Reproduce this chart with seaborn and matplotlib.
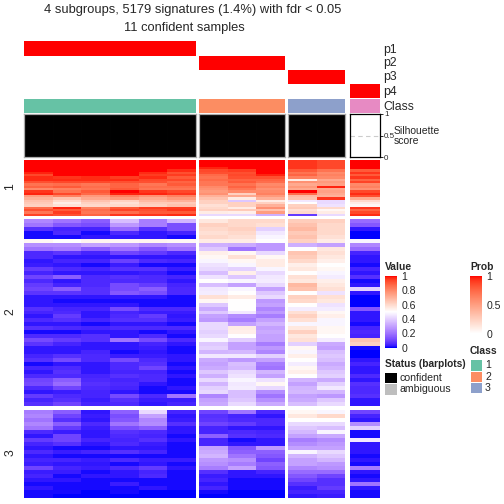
import matplotlib
matplotlib.use("Agg")
import matplotlib.pyplot as plt
from matplotlib.colors import LinearSegmentedColormap, ListedColormap
import numpy as np
import pandas as pd
import seaborn as sns

plt.rcParams['font.family'] = ['Liberation Sans', 'DejaVu Sans']

title_1 = "4 subgroups, 5179 signatures (1.4%) with fdr < 0.05"
title_2 = "11 confident samples"
annotation_names = ["p1", "p2", "p3", "p4", "Class"]
class_colors = ["#66C2A5", "#FC8D62", "#8DA0CB", "#E78AC3"]
prob_rows = [
    [1, 0, 0, 0],
    [0, 1, 0, 0],
    [0, 0, 1, 0],
    [0, 0, 0, 1],
]
silhouette = [
    [1, 1, 1, 1, 1, 1],
    [1, 1, 1],
    [1, 1],
    [0],
]
row_names = ["1", "2", "3"]
value_ticks = [0, 0.2, 0.4, 0.6, 0.8, 1]
value_tick_labels = ["0", "0.2", "0.4", "0.6", "0.8", "1"]
prob_ticks = [0, 0.5, 1]
prob_tick_labels = ["0", "0.5", "1"]
status_names = ["confident", "ambiguous"]
status_colors = ["#000000", "#BEBEBE"]
legend_classes = ["1", "2", "3"]

rows_1 = [
    [1,1,1,1,1,1, 1,1,1, .96,.93, 1],
    [1,1,1,1,1,1, 1,1,1, .96,.93, 1],
    [1,1,1,1,1,1, 1,1,1, .96,.93, 1],
    [1,1,1,1,1,1, .98,1,1, .96,.93, 1],
    [1,1,1,1,1,.97, .93,.95,1, .9,.85, .9],
    [.98,1,1,1,.97,.92, .92,.92,1, .85,.8, .96],
    [.93,1,1,1,.95,.95, .87,.93,.98, .88,.82, .9],
    [.97,.96,.97,.95,.97,.9, .85,.92,.92, .82,.8, .96],
    [.97,.97,.97,.97,.93,.93, .87,.88,.88, .55,.72, .88],
    [.92,.93,.93,.92,.92,.88, .84,.9,.86, .78,.76, .94],
    [.85,.86,.84,.88,.84,.9, .84,.85,.8, .72,.74, .8],
    [.88,.9,.86,.88,.86,.86, .8,.88,.82, .76,.98, .82],
    [.8,.82,.84,.9,.84,.84, .78,.84,.78, .72,.72, .78],
    [.96,.85,.9,1,.96,.93, .76,.8,.8, 1,.74, .93],
    [.98,.93,.87,.98,.98,.96, .78,.62,.82, .86,.72, .97],
    [.75,.82,.76,.82,.78,.82, .7,.72,.76, .68,.7, .92],
    [.7,.66,.72,.76,.72,.76, .66,.55,.7, .66,.96, .72],
    [.66,.6,.66,.62,.68,.7, .62,.38,.55, .45,.42, .6],
    [.64,.55,.62,.58,.64,.64, .62,.62,.62, .5,.42, .55],
    [.62,.58,.6,.6,.62,.66, .58,.62,.7, .62,.44, .52],
    [.86,.98,.82,.9,.95,.95, .6,.55,.78, .64,.6, .96],
    [.92,.9,.86,.94,.92,.96, .62,.64,.66, .58,.52, .88],
    [.84,.95,.84,.86,.9,.9, .55,.54,.75, .6,.55, .93],
    [.94,.92,.88,.96,.96,.97, .42,.42,.33, .08,.42, .97],
]
rows_2 = [
    [.24,.2,.15,.36,.22,.34, .56,.6,.6, .63,.62, .18],
    [.2,.14,.12,.28,.22,.12, .62,.6,.58, .66,.6, .14],
    [.06,.04,.04,.18,.06,.12, .6,.62,.4, .68,.6, .02],
    [.01,.05,.01,.05,.02,.04, .58,.6,.45, .64,.6, 0],
    [.01,.01,.02,.02,.02,.01, .6,.58,.48, .66,.58, 0],
    [.52,.5,.53,.52,.53,.52, .55,.55,.5, .62,.55, .48],
    [.26,.26,.3,.28,.24,.26, .33,.32,.28, .33,.3, .24],
    [.2,.22,.15,.2,.14,.2, .38,.2,.28, .5,.56, .18],
    [.05,.07,.04,.1,.08,.05, .54,.52,.42, .65,.58, .04],
    [.05,.02,.02,.02,.02,.02, .52,.58,.52, .63,.56, .02],
    [.02,.04,.04,.09,.05,.04, .48,.52,.55, .6,.54, .02],
    [.03,.02,.01,.03,.01,.01, .44,.48,.55, .54,.5, .01],
    [.08,.05,.04,.06,.06,.03, .42,.4,.48, .56,.52, .04],
    [.04,.02,.02,.02,.03,.01, .36,.54,.42, .5,.48, .02],
    [.1,.15,.05,.06,.05,.04, .44,.38,.45, .58,.46, .06],
    [.05,.02,.05,.05,.05,.02, .5,.48,.46, .56,.54, .01],
    [.08,.04,.05,.11,.08,.04, .36,.3,.42, .68,.56, .02],
    [.1,.15,.06,.11,.15,.05, .45,.48,.3, .66,.58, .4],
    [.07,.07,.06,.14,.12,.05, .46,.5,.38, .5,.44, .02],
    [.02,.02,.02,.02,.02,.01, .58,.55,.42, .62,.58, 0],
    [.02,.01,.01,.01,.01,.01, .52,.5,.28, .6,.56, 0],
    [.02,.02,.02,.02,.01,.01, .38,.5,.3, .5,.44, 0],
    [.06,.04,.04,.11,.05,.05, .32,.5,.24, .46,.46, .14],
    [.04,.05,.02,.04,.03,.03, .38,.45,.28, .58,.52, .02],
    [.02,.08,.02,.05,.08,.02, .3,.25,.22, .62,.54, .02],
    [.05,.06,.04,.06,.06,.03, .28,.22,.3, .58,.48, .02],
    [.02,.02,.01,.02,.02,.01, .42,.3,.34, .48,.48, .01],
    [.06,.05,.04,.05,.05,.05, .42,.55,.3, .56,.52, .04],
    [.01,.01,.02,.02,.01,.02, .4,.54,.32, .62,.52, .05],
    [.05,.05,.06,.02,.05,.01, .42,.5,.3, .56,.5, .04],
    [.11,.08,.06,.2,.11,.05, .48,.4,.3, .58,.46, .65],
    [.07,.04,.02,.02,.04,.02, .38,.3,.22, .4,.32, .62],
    [.02,.02,.02,.02,.03,.01, .4,.3,.28, .52,.3, .01],
    [.02,.02,.04,.01,.02,.01, .34,.35,.24, .48,.36, 0],
    [.04,.06,.05,.03,.03,.02, .45,.45,.4, .54,.38, 0],
    [.06,.11,.05,.11,.05,.02, .32,.28,.3, .5,.36, .02],
    [.01,.02,.02,.05,.06,.01, .3,.36,.22, .46,.32, .04],
    [.04,.05,.02,.05,.1,.02, .32,.35,.2, .52,.34, .02],
    [.02,.06,.02,.04,.04,.01, .38,.42,.34, .54,.38, .02],
    [.05,.05,.04,.06,.05,.02, .33,.44,.3, .5,.4, .05],
    [.1,.15,.05,.04,.05,.01, .42,.48,.44, .34,.32, .02],
    [.11,.18,.06,.05,.02,.01, .34,.45,.52, .3,.4, .06],
    [.05,.1,.05,.04,.01,.02, .4,.46,.42, .34,.45, .05],
    [.02,.03,.04,.02,.01,.01, .42,.36,.25, .35,.34, .05],
    [.08,.05,.04,.11,.05,.2, .24,.36,.2, .3,.28, .06],
    [.04,.06,.03,.06,.03,.03, .3,.38,.26, .32,.38, .02],
    [.06,.1,.04,.05,.02,.04, .32,.42,.32, .36,.42, .02],
]
rows_3 = [
    [.22,.15,.02,.16,.42,.04, .1,.2,.05, .52,.48, .1],
    [.24,.1,.03,.12,.3,.02, .06,.04,.02, .56,.6, .04],
    [.2,.06,.02,.14,.24,.03, .07,.05,.05, .5,.5, .02],
    [.24,.15,.05,.2,.25,.06, .1,.08,.05, .42,.42, .25],
    [.2,.08,.03,.12,.15,.02, .04,.02,.02, .38,.36, .4],
    [.05,.03,.02,.06,.05,.02, .04,.05,.04, .35,.48, .01],
    [.02,.1,.02,.05,.04,.01, .16,.06,.05, .3,.32, .01],
    [.08,.1,.04,.04,.06,.02, .04,.01,.02, .22,.25, .45],
    [.04,.06,.02,.05,.03,.01, .04,.02,.02, .25,.28, .02],
    [.02,.01,.01,.02,.02,.01, .3,.14,.28, .3,.3, .02],
    [.05,.03,.04,.06,.04,.01, .32,.16,.16, .48,.42, .02],
    [.02,.01,.01,.01,.01,.01, .34,.2,.14, .34,.38, .01],
    [.04,.04,.03,.05,.03,.03, .28,.26,.1, .3,.34, .02],
    [.03,.02,.02,.01,.02,.01, .26,.22,.16, .3,.28, .01],
    [.1,.04,.03,.05,.08,.02, .22,.3,.14, .24,.26, .22],
    [.03,.03,.01,.02,.04,.01, .06,.02,.04, .18,.18, .02],
    [.04,.01,.02,.02,.05,.01, .03,.02,.02, .14,.1, .01],
    [.02,.02,.01,.01,.01,.01, .04,.01,.01, .1,.06, .02],
    [.01,.01,.01,.03,.01,.01, .02,.01,.01, .06,.06, .2],
    [.02,.01,.01,.01,.02,.01, .04,.01,.01, .03,.08, .02],
    [.01,.01,0,.01,0,0, .01,0,0, .04,.04, .01],
    [.01,0,0,0,0,0, 0,0,0, .02,.03, .01],
]
value_blocks = [rows_1, rows_2, rows_3]

# layout, in pixels of the 504 x 504 canvas
W = H = 504
col_boxes = [(24, 196), (199, 285), (288, 345), (350, 380)]
col_slices = [(0, 6), (6, 9), (9, 11), (11, 12)]
row_boxes = [(160, 216), (219, 406), (410, 498)]
prob_boxes = [(41, 56), (56, 70), (70, 84), (84, 98)]
class_box = (99, 113)
sil_box = (114, 157)

sns.set_style("white")
plt.rcParams['font.family'] = ['Liberation Sans', 'DejaVu Sans']
fig = plt.figure(figsize=(W / 100, H / 100), dpi=100, facecolor="white")


def px_ax(x0, x1, y0, y1, **kw):
    return fig.add_axes([x0 / W, 1 - y1 / H, (x1 - x0) / W, (y1 - y0) / H], **kw)


def label(x, y, s, size=7.4, **kw):
    kw.setdefault("ha", "left")
    kw.setdefault("va", "center")
    fig.text(x / W, 1 - y / H, s, fontsize=size, **kw)


def srgb_to_lab(rgb):
    c = np.array(rgb, dtype=float)
    c = np.where(c > 0.04045, ((c + 0.055) / 1.055) ** 2.4, c / 12.92)
    m = np.array([[0.4124, 0.3576, 0.1805], [0.2126, 0.7152, 0.0722], [0.0193, 0.1192, 0.9505]])
    xyz = m @ c / np.array([0.9505, 1.0, 1.089])
    f = np.where(xyz > 0.008856, np.cbrt(xyz), 7.787 * xyz + 16 / 116)
    return np.array([116 * f[1] - 16, 500 * (f[0] - f[1]), 200 * (f[1] - f[2])])


def lab_to_srgb(lab):
    fy = (lab[0] + 16) / 116
    f = np.array([fy + lab[1] / 500, fy, fy - lab[2] / 200])
    xyz = np.where(f ** 3 > 0.008856, f ** 3, (f - 16 / 116) / 7.787) * np.array([0.9505, 1.0, 1.089])
    m = np.array([[3.2406, -1.5372, -0.4986], [-0.9689, 1.8758, 0.0415], [0.0557, -0.2040, 1.0570]])
    c = np.clip(m @ xyz, 0, 1)
    return tuple(np.clip(np.where(c > 0.0031308, 1.055 * c ** (1 / 2.4) - 0.055, 12.92 * c), 0, 1))


def lab_ramp(name, stops):
    labs = [srgb_to_lab(s) for s in stops]
    colors = []
    for a, b in zip(labs[:-1], labs[1:]):
        colors += [lab_to_srgb(a + (b - a) * t) for t in np.linspace(0, 1, 32, endpoint=False)]
    colors.append(lab_to_srgb(labs[-1]))
    return LinearSegmentedColormap.from_list(name, colors)


value_cmap = lab_ramp("v", [(0, 0, 1), (1, 1, 1), (1, 0, 0)])
prob_cmap = lab_ramp("p", [(1, 1, 1), (1, 0, 0)])

# main heatmap slices
for rows, (y0, y1) in zip(value_blocks, row_boxes):
    table = pd.DataFrame(rows)
    for (c0, c1), (x0, x1) in zip(col_slices, col_boxes):
        ax = px_ax(x0, x1, y0, y1)
        sns.heatmap(table.iloc[:, c0:c1], ax=ax, cmap=value_cmap, vmin=0, vmax=1,
                    cbar=False, xticklabels=False, yticklabels=False)

# probability rows
for row, (y0, y1), name in zip(prob_rows, prob_boxes, annotation_names):
    for v, (x0, x1) in zip(row, col_boxes):
        ax = px_ax(x0, x1, y0, y1)
        sns.heatmap([[v]], ax=ax, cmap=prob_cmap, vmin=0, vmax=1, cbar=False,
                    xticklabels=False, yticklabels=False)

# class row
for i, (x0, x1) in enumerate(col_boxes):
    ax = px_ax(x0, x1, class_box[0], class_box[1])
    sns.heatmap([[0]], ax=ax, cmap=ListedColormap([class_colors[i]]), cbar=False,
                xticklabels=False, yticklabels=False)

# silhouette bars
for i, (vals, (x0, x1)) in enumerate(zip(silhouette, col_boxes)):
    ax = px_ax(x0, x1, sil_box[0], sil_box[1])
    ax.axhline(0.5, color="#CCCCCC", lw=0.8, ls=(0, (4, 3)), zorder=0)
    sns.barplot(x=list(range(len(vals))), y=vals, color="black", width=1.0,
                saturation=1, ax=ax, zorder=2, edgecolor="black", linewidth=0.6)
    ax.set_xlim(-0.5, len(vals) - 0.5)
    ax.set_ylim(0, 1)
    ax.set_xticks([])
    ax.set_xlabel("")
    last = i == len(col_boxes) - 1
    for sp in ax.spines.values():
        sp.set_visible(True)
        sp.set_color("black" if last else "#AAAAAA")
        sp.set_linewidth(0.9)
        sp.set_zorder(5)
    if last:
        ax.yaxis.tick_right()
        ax.set_yticks([0, 0.5, 1])
        ax.set_yticklabels(["0", "0.5", "1"], fontsize=5.8)
        ax.tick_params(axis="y", length=2.5, width=0.7, pad=0.5, right=True, left=False)
    else:
        ax.set_yticks([])
    ax.set_ylabel("")

# texts
label(193, 10, title_1, size=9.3, ha="center")
label(184, 28.5, title_2, size=9.3, ha="center")
for name, y in zip(annotation_names, [49.5, 63, 77, 92, 107]):
    label(383, y, name, size=8.8)
label(394, 131, "Silhouette", size=7.5)
label(394, 141, "score", size=7.5)
for name, y in zip(row_names, [187, 312, 453]):
    label(10.5, y, name, size=8.8, rotation=90, ha="center")

# colour bars
for cmap, vmin, box, ticks, tlabels, tx, ty, tname in [
    (value_cmap, 0, (385, 397, 276, 347.5), value_ticks, value_tick_labels, 385, 267, "Value"),
    (prob_cmap, 0, (470, 482, 276, 333.5), prob_ticks, prob_tick_labels, 470, 267, "Prob"),
]:
    cax = px_ax(box[0], box[1], box[2], box[3])
    sm = plt.cm.ScalarMappable(cmap=cmap, norm=plt.Normalize(0, 1))
    cb = fig.colorbar(sm, cax=cax)
    cb.outline.set_visible(False)
    cb.set_ticks(ticks)
    cb.set_ticklabels(tlabels)
    cax.tick_params(axis="y", direction="in", color="white", width=0.6, length=3,
                    left=True, right=True, labelsize=7.6, pad=3)
    label(tx, ty, tname, size=7.4, fontweight="bold")

# status legend
label(385, 364, "Status (barplots)", size=7.3, fontweight="bold")
for color, name, (y0, y1) in zip(status_colors, status_names, [(372.5, 383), (384, 395)]):
    ax = px_ax(385, 397, y0, y1)
    sns.heatmap([[0]], ax=ax, cmap=ListedColormap([color]), cbar=False,
                xticklabels=False, yticklabels=False)
    label(399.5, (y0 + y1) / 2, name, size=7.6)

# class legend
label(470, 351, "Class", size=7.4, fontweight="bold")
for color, name, (y0, y1) in zip(class_colors, legend_classes,
                                 [(360, 371), (371.5, 382), (382.5, 393)]):
    ax = px_ax(471, 482, y0, y1)
    sns.heatmap([[0]], ax=ax, cmap=ListedColormap([color]), cbar=False,
                xticklabels=False, yticklabels=False)
    label(485, (y0 + y1) / 2, name, size=7.6)

fig.savefig("out.png", dpi=100, facecolor="white")
